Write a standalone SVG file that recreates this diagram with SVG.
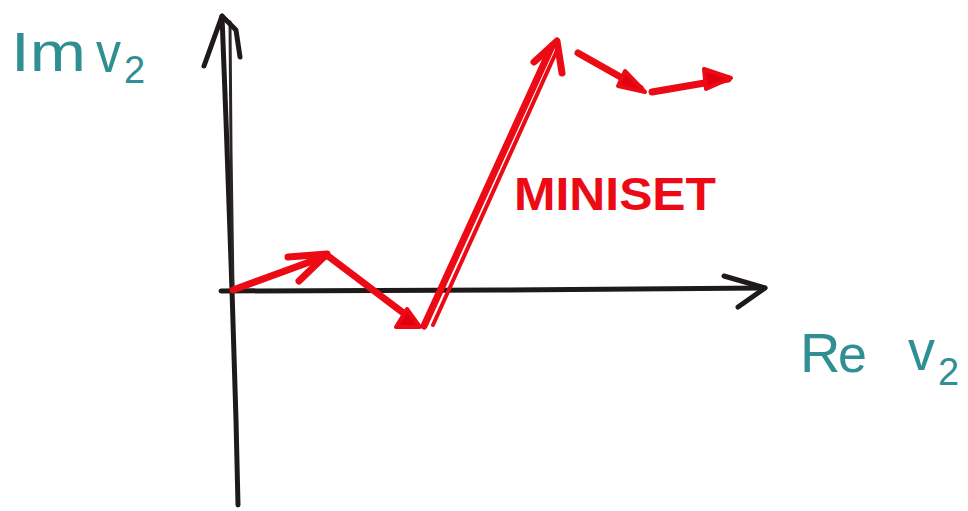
<svg xmlns="http://www.w3.org/2000/svg" width="968" height="511" viewBox="0 0 968 511">
  <style>
    .axis { fill: none; stroke: #1e1a1a; stroke-width: 5; stroke-linecap: round; stroke-linejoin: round; }
    .axis2 { fill: none; stroke: #2a2626; stroke-width: 3; stroke-linecap: round; }
    .vec { fill: none; stroke: #ec0a14; stroke-width: 7; stroke-linecap: round; stroke-linejoin: round; }
    .head { fill: #e2000e; stroke: #ec0a14; stroke-width: 4; stroke-linejoin: round; }
    .lbl { font-family: "Liberation Sans", Arial, sans-serif; fill: #2f8f92; }
    .red { font-family: "Liberation Sans", Arial, sans-serif; font-weight: bold; fill: #ec0a14; }
  </style>
  <rect width="968" height="511" fill="#ffffff"/>

  <g id="axes">
    <path class="axis" d="M222 16 L226 120 L232 290 L236 420 L238 505"/>
    <path class="axis2" d="M230 22 L231 150 L233 290"/>
    <path class="axis" d="M204 66 L222 16 L236 30 L240 57"/>
    <path class="axis" d="M221 291 L500 290 L765 288"/>
    <path class="axis" d="M724 276 L765 288 L738 307"/>
  </g>

  <g id="connectors">
    <g id="v1">
      <path class="vec" d="M233 290 L326 256"/>
      <path class="vec" d="M288 257 L327 254 L299 281"/>
    </g>
    <g id="v2">
      <path class="vec" d="M328 256 L410 318"/>
      <path class="head" d="M420 327 L396 327 L407 309 Z"/>
    </g>
    <g id="v3">
      <path class="vec" d="M424 326 L552 46"/>
      <path class="vec" style="stroke-width:4" d="M433 325 L558 48"/>
      <path class="vec" d="M534 62 L557 41 L562 73"/>
    </g>
    <g id="v4">
      <path class="vec" d="M578 53 L640 88"/>
      <path class="head" d="M645 92 L618 86 L625 71 Z"/>
    </g>
    <g id="v5">
      <path class="vec" d="M652 92 L728 79"/>
      <path class="head" d="M731 78 L704 69 L706 89 Z"/>
    </g>
  </g>

  <g id="labels">
    <text class="lbl" x="11" y="71" font-size="56" textLength="75" lengthAdjust="spacingAndGlyphs">Im</text>
    <text class="lbl" x="96" y="72" font-size="58" textLength="25" lengthAdjust="spacingAndGlyphs">v</text>
    <text class="lbl" x="124" y="83" font-size="38">2</text>
    <text class="lbl" x="800" y="372" font-size="56">R</text>
    <text class="lbl" x="838" y="372" font-size="52">e</text>
    <text class="lbl" x="908" y="370" font-size="58" textLength="27" lengthAdjust="spacingAndGlyphs">v</text>
    <text class="lbl" x="938" y="385" font-size="38">2</text>
    <text class="red" x="514" y="210" font-size="46" textLength="202" lengthAdjust="spacingAndGlyphs">MINISET</text>
  </g>
</svg>
